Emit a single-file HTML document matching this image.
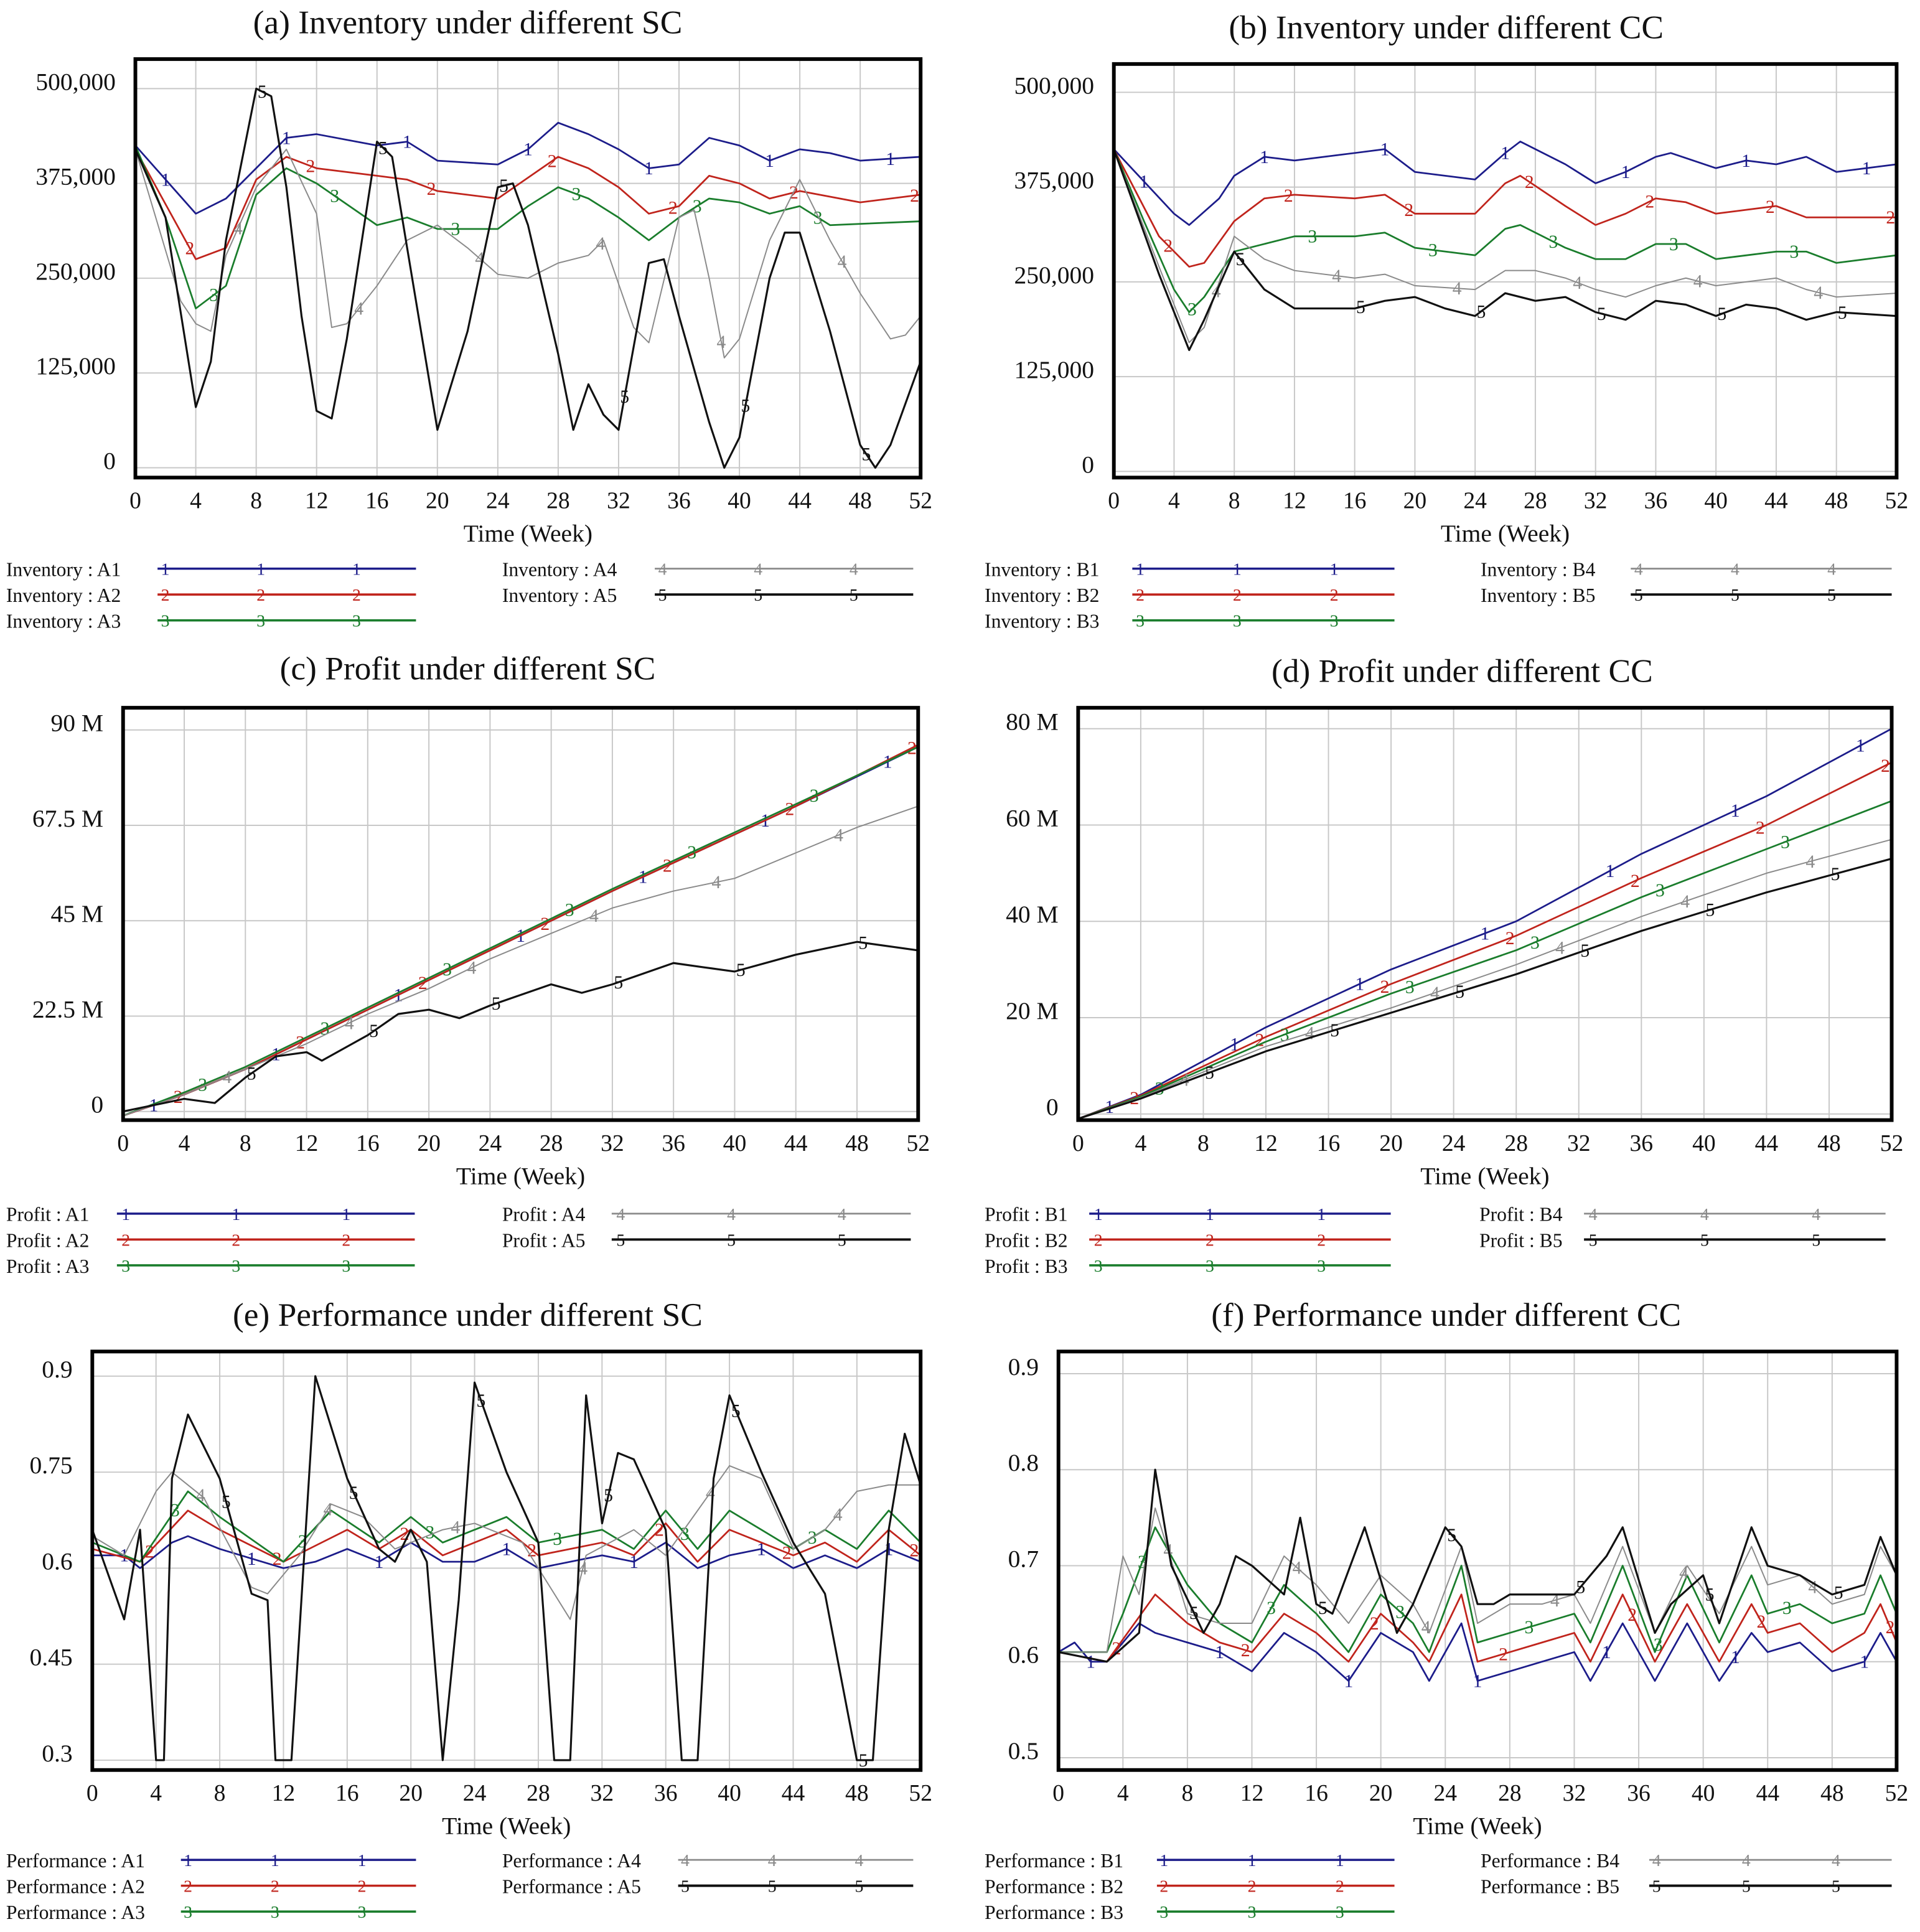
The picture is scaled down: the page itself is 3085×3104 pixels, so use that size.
<!DOCTYPE html>
<html><head><meta charset="utf-8"><style>
html,body{margin:0;padding:0;background:#fff}
svg{display:block}
text{font-family:"Liberation Serif",serif}
</style></head><body>
<svg id="c" width="3085" height="3104" viewBox="0 0 1560 1569.6" preserveAspectRatio="none" xmlns="http://www.w3.org/2000/svg"></svg>
<script>
// ---- data (time, value) ----
const invA1=[[0,425],[4,335],[6,355],[10,435],[12,440],[16,425],[18,430],[20,405],[24,400],[26,420],[28,455],[30,440],[32,420],[34,395],[36,400],[38,435],[40,425],[42,405],[44,420],[46,415],[48,405],[52,410]];
const invA2=[[0,420],[4,275],[6,290],[8,380],[10,410],[12,395],[16,385],[18,380],[20,365],[24,355],[28,410],[30,395],[32,370],[34,335],[36,345],[38,385],[40,375],[42,355],[44,365],[48,350],[52,360]];
const invA3=[[0,425],[2,330],[4,210],[6,240],[8,360],[10,395],[12,375],[16,320],[18,330],[20,315],[24,315],[26,345],[28,370],[30,355],[32,330],[34,300],[36,330],[38,355],[40,350],[42,335],[44,345],[46,320],[52,325]];
const invA4=[[0,420],[3,220],[4,190],[5,180],[6,280],[8,370],[10,420],[12,335],[13,185],[14,190],[16,240],[18,300],[20,320],[22,290],[24,255],[26,250],[28,270],[30,280],[31,300],[33,185],[34,165],[36,330],[37,340],[38,250],[39,145],[40,170],[42,300],[44,380],[46,300],[48,230],[50,170],[51,175],[52,200]];
const invA5=[[0,420],[2,330],[4,80],[5,140],[6,300],[8,500],[9,490],[10,370],[11,200],[12,75],[13,65],[14,170],[16,430],[17,410],[18,290],[20,50],[22,180],[24,370],[25,375],[26,320],[28,150],[29,50],[30,110],[31,70],[32,50],[34,270],[35,275],[36,200],[38,60],[39,0],[40,40],[42,250],[43,310],[44,310],[46,180],[48,30],[49,0],[50,30],[52,140]];
const invB1=[[0,425],[4,340],[5,325],[7,360],[8,390],[10,415],[12,410],[16,420],[18,425],[20,395],[24,385],[26,420],[27,435],[30,405],[32,380],[34,395],[36,415],[37,420],[40,400],[42,410],[44,405],[46,415],[48,395],[52,405]];
const invB2=[[0,425],[3,310],[5,270],[6,275],[8,330],[10,360],[12,365],[16,360],[18,365],[20,340],[24,340],[26,380],[27,390],[30,350],[32,325],[34,340],[36,360],[38,355],[40,340],[42,345],[44,350],[46,335],[52,335]];
const invB3=[[0,425],[2,330],[4,240],[5,210],[6,230],[8,290],[10,300],[12,310],[16,310],[18,315],[20,295],[24,285],[26,320],[27,325],[30,295],[32,280],[34,280],[36,300],[38,300],[40,280],[44,290],[46,290],[48,275],[52,285]];
const invB4=[[0,425],[3,270],[5,170],[6,190],[8,310],[10,280],[12,265],[16,255],[18,260],[20,245],[24,240],[26,265],[28,265],[30,255],[32,240],[34,230],[36,245],[38,255],[40,245],[42,250],[44,255],[46,240],[48,230],[52,235]];
const invB5=[[0,425],[3,260],[5,160],[6,200],[8,290],[10,240],[12,215],[16,215],[18,225],[20,230],[22,215],[24,205],[26,235],[28,225],[30,230],[32,210],[34,200],[36,225],[38,220],[40,205],[42,220],[44,215],[46,200],[48,210],[52,205]];
const proA1=[[0,-1],[4,4],[8,10],[20,31],[32,52],[44,72],[52,86]];
const proA2=[[0,-1],[4,4],[8,10],[20,31],[32,52],[44,72],[52,86.5]];
const proA3=[[0,-1],[4,4.5],[8,10.5],[20,31.5],[32,52.5],[44,72.5],[52,86]];
const proA4=[[0,-1],[4,4],[8,10],[12,16],[16,23],[20,29],[24,36],[28,42],[32,48],[36,52],[40,55],[44,61],[48,67],[52,72]];
const proA5=[[0,0],[4,3],[6,2],[8,8],[10,13],[12,14],[13,12],[16,18],[18,23],[20,24],[22,22],[24,25],[28,30],[30,28],[32,30],[36,35],[38,34],[40,33],[44,37],[48,40],[52,38]];
const proB1=[[0,-1],[4,4],[12,18],[20,30],[28,40],[36,54],[44,66],[52,80]];
const proB2=[[0,-1],[4,3.8],[12,16],[20,27],[28,37],[36,49],[44,60],[52,73]];
const proB3=[[0,-1],[4,3.6],[12,15],[20,25],[28,34],[36,45],[44,55],[52,65]];
const proB4=[[0,-1],[4,3.4],[12,14],[20,22],[28,31],[36,41],[44,50],[52,57]];
const proB5=[[0,-1],[4,3.2],[12,13],[20,21],[28,29],[36,38],[44,46],[52,53]];
const perA1=[[0,0.62],[2,0.62],[3,0.60],[5,0.64],[6,0.65],[8,0.63],[12,0.60],[14,0.61],[16,0.63],[18,0.61],[20,0.64],[22,0.61],[24,0.61],[26,0.63],[28,0.60],[32,0.62],[34,0.61],[36,0.64],[38,0.60],[40,0.62],[42,0.63],[44,0.60],[46,0.62],[48,0.60],[50,0.63],[52,0.61]];
const perA2=[[0,0.63],[3,0.61],[6,0.69],[8,0.66],[12,0.61],[16,0.66],[18,0.63],[20,0.66],[22,0.62],[26,0.66],[28,0.62],[32,0.64],[34,0.62],[36,0.67],[38,0.61],[40,0.66],[42,0.64],[44,0.62],[46,0.64],[48,0.61],[50,0.66],[52,0.62]];
const perA3=[[0,0.64],[3,0.61],[6,0.72],[8,0.68],[12,0.61],[15,0.69],[18,0.64],[20,0.68],[22,0.64],[26,0.68],[28,0.64],[32,0.66],[34,0.63],[36,0.69],[38,0.63],[40,0.69],[42,0.66],[44,0.63],[46,0.66],[48,0.63],[50,0.69],[52,0.64]];
const perA4=[[0,0.65],[2,0.62],[4,0.72],[5,0.75],[7,0.71],[10,0.57],[11,0.56],[13,0.62],[15,0.70],[17,0.68],[19,0.63],[22,0.66],[24,0.67],[27,0.64],[30,0.52],[31,0.62],[34,0.66],[36,0.62],[38,0.69],[40,0.76],[42,0.74],[44,0.63],[46,0.66],[48,0.72],[50,0.73],[52,0.73]];
const perA5=[[0,0.66],[2,0.52],[3,0.66],[4,0.3],[4.5,0.3],[5,0.74],[6,0.84],[8,0.74],[10,0.56],[11,0.55],[11.5,0.3],[12.5,0.3],[14,0.90],[16,0.74],[18,0.63],[19,0.61],[20,0.66],[21,0.61],[22,0.3],[23,0.55],[24,0.89],[26,0.75],[28,0.64],[29,0.3],[30,0.3],[31,0.87],[32,0.67],[33,0.78],[34,0.77],[36,0.66],[37,0.3],[38,0.3],[39,0.74],[40,0.87],[42,0.75],[44,0.64],[46,0.56],[48,0.3],[49,0.3],[50,0.66],[51,0.81],[52,0.73]];
const perB1=[[0,0.61],[1,0.62],[2,0.60],[3,0.60],[5,0.64],[6,0.63],[8,0.62],[10,0.61],[12,0.59],[14,0.63],[16,0.61],[18,0.58],[20,0.63],[22,0.61],[23,0.58],[25,0.64],[26,0.58],[28,0.59],[30,0.60],[32,0.61],[33,0.58],[35,0.64],[37,0.58],[39,0.64],[41,0.58],[43,0.63],[44,0.61],[46,0.62],[48,0.59],[50,0.60],[51,0.63],[52,0.60]];
const perB2=[[0,0.61],[3,0.60],[6,0.67],[8,0.64],[10,0.62],[12,0.61],[14,0.65],[16,0.63],[18,0.60],[20,0.65],[22,0.62],[23,0.60],[25,0.67],[26,0.60],[28,0.61],[30,0.62],[32,0.63],[33,0.60],[35,0.67],[37,0.60],[39,0.66],[41,0.60],[43,0.66],[44,0.63],[46,0.64],[48,0.61],[50,0.63],[51,0.66],[52,0.62]];
const perB3=[[0,0.61],[3,0.61],[4,0.65],[6,0.74],[8,0.68],[10,0.64],[12,0.62],[14,0.68],[16,0.65],[18,0.61],[20,0.67],[22,0.64],[23,0.61],[25,0.70],[26,0.62],[28,0.63],[30,0.64],[32,0.65],[33,0.62],[35,0.70],[37,0.61],[39,0.69],[41,0.62],[43,0.69],[44,0.65],[46,0.66],[48,0.64],[50,0.65],[51,0.69],[52,0.65]];
const perB4=[[0,0.61],[3,0.61],[4,0.71],[5,0.67],[6,0.76],[8,0.65],[10,0.64],[12,0.64],[14,0.71],[16,0.68],[18,0.64],[20,0.69],[22,0.66],[23,0.63],[25,0.72],[26,0.64],[28,0.66],[30,0.66],[32,0.67],[33,0.64],[35,0.72],[37,0.63],[39,0.70],[41,0.65],[43,0.72],[44,0.68],[46,0.69],[48,0.66],[50,0.67],[51,0.72],[52,0.69]];
const perB5=[[0,0.61],[3,0.60],[5,0.63],[6,0.80],[7,0.70],[9,0.63],[10,0.66],[11,0.71],[12,0.70],[14,0.67],[15,0.75],[16,0.66],[17,0.65],[19,0.74],[21,0.63],[22,0.66],[24,0.74],[25,0.72],[26,0.66],[27,0.66],[28,0.67],[30,0.67],[32,0.67],[34,0.71],[35,0.74],[37,0.63],[38,0.66],[40,0.69],[41,0.64],[43,0.74],[44,0.70],[46,0.69],[48,0.67],[50,0.68],[51,0.73],[52,0.69]];
const xTicks=[0,4,8,12,16,20,24,28,32,36,40,44,48,52];
const invTicks=[0,125,250,375,500];
const invTickLabels=["0","125,000","250,000","375,000","500,000"];
const proATicks=[0,22.5,45,67.5,90];
const proATickLabels=["0","22.5 M","45 M","67.5 M","90 M"];
const proBTicks=[0,20,40,60,80];
const proBTickLabels=["0","20 M","40 M","60 M","80 M"];
const perATicks=[0.3,0.45,0.6,0.75,0.9];
const perATickLabels=["0.3","0.45","0.6","0.75","0.9"];
const perBTicks=[0.5,0.6,0.7,0.8,0.9];
const perBTickLabels=["0.5","0.6","0.7","0.8","0.9"];

const colors=["#1c1c8a","#c0241c","#1a7d2c","#8a8a8a","#111111"];
const widths=[1.4,1.4,1.4,1,1.6];
const NS="http://www.w3.org/2000/svg";
const svg=document.getElementById('c');
function el(tag,attrs,parent){const e=document.createElementNS(NS,tag);for(const k in attrs)e.setAttribute(k,attrs[k]);(parent||svg).appendChild(e);return e;}
function txt(s,attrs,parent){const e=el('text',attrs,parent);e.textContent=s;return e;}
function interp(d,t){for(let i=1;i<d.length;i++){if(t<=d[i][0]){const a=d[i-1],b=d[i];return a[1]+(b[1]-a[1])*(t-a[0])/(b[0]-a[0]);}}return d[d.length-1][1];}

const panels=[
 {id:'a',title:'(a) Inventory under different SC',tx:380,ty:18,x0:110,x1:748,top:48,bot:388,y0:380,y1:72,vmin:0,vmax:500,ticks:invTicks,labels:invTickLabels,series:[invA1,invA2,invA3,invA4,invA5],prefix:'Inventory : A',leg:{lx:5,l1:[128,338],rx:408,l2:[532,742],y:462}},
 {id:'b',title:'(b) Inventory under different CC',tx:1175,ty:22,x0:905,x1:1541,top:52,bot:388,y0:383,y1:75,vmin:0,vmax:500,ticks:invTicks,labels:invTickLabels,series:[invB1,invB2,invB3,invB4,invB5],prefix:'Inventory : B',leg:{lx:800,l1:[920,1133],rx:1203,l2:[1325,1537],y:462}},
 {id:'c',title:'(c) Profit under different SC',tx:380,ty:543,x0:100,x1:746,top:575,bot:910,y0:903,y1:593,vmin:0,vmax:90,ticks:proATicks,labels:proATickLabels,series:[proA1,proA2,proA3,proA4,proA5],prefix:'Profit : A',leg:{lx:5,l1:[95,337],rx:408,l2:[497,740],y:986}},
 {id:'d',title:'(d) Profit under different CC',tx:1188,ty:545,x0:876,x1:1537,top:575,bot:910,y0:905,y1:592,vmin:0,vmax:80,ticks:proBTicks,labels:proBTickLabels,series:[proB1,proB2,proB3,proB4,proB5],prefix:'Profit : B',leg:{lx:800,l1:[885,1130],rx:1202,l2:[1287,1532],y:986}},
 {id:'e',title:'(e) Performance under different SC',tx:380,ty:1068,x0:75,x1:748,top:1098,bot:1438,y0:1430,y1:1118,vmin:0.3,vmax:0.9,ticks:perATicks,labels:perATickLabels,series:[perA1,perA2,perA3,perA4,perA5],prefix:'Performance : A',leg:{lx:5,l1:[147,338],rx:408,l2:[551,742],y:1511}},
 {id:'f',title:'(f) Performance under different CC',tx:1175,ty:1068,x0:860,x1:1541,top:1098,bot:1438,y0:1428,y1:1116,vmin:0.5,vmax:0.9,ticks:perBTicks,labels:perBTickLabels,series:[perB1,perB2,perB3,perB4,perB5],prefix:'Performance : B',leg:{lx:800,l1:[940,1133],rx:1203,l2:[1340,1537],y:1511}}
];

panels.forEach(p=>{
 const g=el('g',{});
 
 
 const X=t=>p.x0+(p.x1-p.x0)*t/52;
 const Y=v=>p.y0+(p.y1-p.y0)*(v-p.vmin)/(p.vmax-p.vmin);
 const tt=txt(p.title,{x:p.tx,y:p.ty+9,'font-size':27,'text-anchor':'middle',fill:'#111'},g);
 
 
 // grid
 xTicks.forEach(t=>{
  const l=el('line',{x1:X(t),x2:X(t),y1:p.top,y2:p.bot,stroke:'#c8c8c8','stroke-width':1},g);
  
  
  const lb=txt(String(t),{x:X(t),y:p.bot+25,'font-size':19,'text-anchor':'middle',fill:'#111'},g);
  
  
 });
 p.ticks.forEach((v,i)=>{
  const l=el('line',{x1:p.x0,x2:p.x1,y1:Y(v),y2:Y(v),stroke:'#c8c8c8','stroke-width':1},g);
  
  
  const lb=txt(p.labels[i],{x:p.x0-16,y:Y(v)+1,'font-size':20,'text-anchor':'end',fill:'#111'},g);
  
  
 });
 const xt=txt('Time (Week)',{x:(p.x0+p.x1)/2,y:p.bot+52,'font-size':20,'text-anchor':'middle',fill:'#111'},g);
 
 
 // clip
 const cp=el('clipPath',{id:'cp'+p.id},g);
 el('rect',{x:p.x0,y:p.top,width:p.x1-p.x0,height:p.bot-p.top},cp);
 const sg=el('g',{'clip-path':'url(#cp'+p.id+')'},g);
 p.series.forEach((d,i)=>{
  const pts=d.map(q=>X(q[0]).toFixed(1)+','+Y(q[1]).toFixed(1)).join(' ');
  const pl=el('polyline',{points:pts,fill:'none',stroke:colors[i],'stroke-width':widths[i],'stroke-linejoin':'round'},sg);
  
  
  for(let t=2+i*1.6;t<52;t+=8){
   const m=txt(String(i+1),{x:X(t),y:Y(interp(d,t))+5,'font-size':15,'text-anchor':'middle',fill:colors[i]},sg);
   
   
  }
 });
 const box=el('rect',{x:p.x0,y:p.top,width:p.x1-p.x0,height:p.bot-p.top,fill:'none',stroke:'#000','stroke-width':3},g);
 
 
 // legend
 const L=p.leg;
 [0,1,2,3,4].forEach(i=>{
  const right=i>=3;
  const row=right?i-3:i;
  const y=L.y+row*21;
  const tx=right?L.rx:L.lx;
  const seg=right?L.l2:L.l1;
  const lg=el('g',{},g);
  
  
  txt(p.prefix+(i+1),{x:tx,y:y+6,'font-size':16,fill:'#111'},lg);
  el('line',{x1:seg[0],x2:seg[1],y1:y,y2:y,stroke:colors[i],'stroke-width':widths[i]+0.4},lg);
  const w=seg[1]-seg[0];
  [0.03,0.4,0.77].forEach(f=>{txt(String(i+1),{x:seg[0]+w*f,y:y+5,'font-size':14,'text-anchor':'middle',fill:colors[i]},lg);});
 });
});
</script>
</body></html>
